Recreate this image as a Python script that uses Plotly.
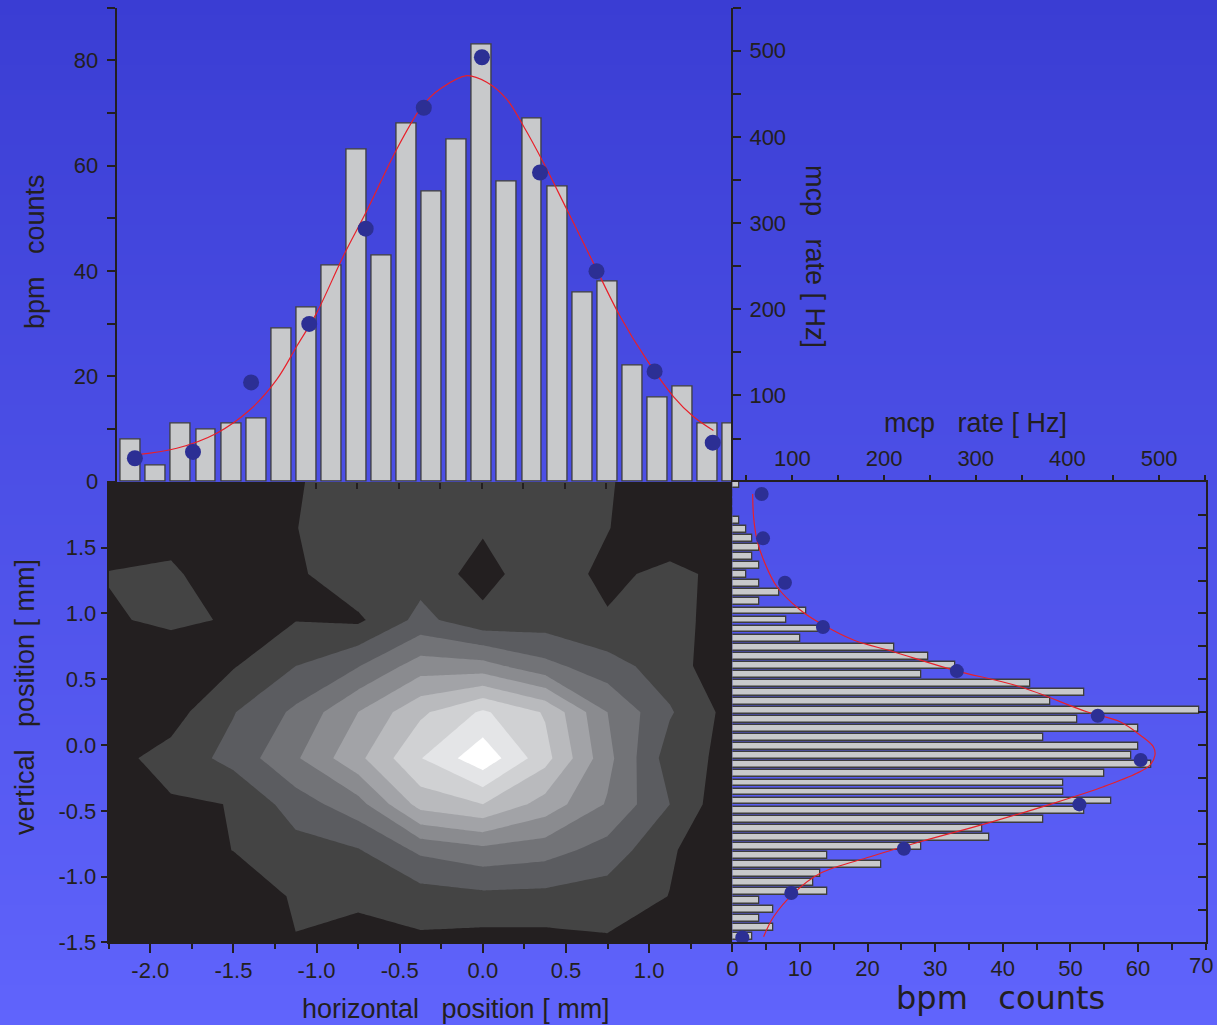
import numpy as np
import plotly.graph_objects as go

W, H = 1217, 1025
DARK = "#231f20"
BAR_FILL = "#c8c9cb"
BAR_EDGE = "#3d3d3d"
DOT = "#2c2f94"
FIT = "#e8202a"
FONT = "Liberation Sans, Arial, sans-serif"

# ---------------- horizontal profile (top panel) ----------------
h_bins = np.round(np.arange(-14, 11) * 0.151, 3)
h_counts = [8, 3, 11, 10, 11, 12, 29, 33, 41, 63, 43, 68, 55, 65, 83,
            57, 69, 56, 36, 38, 22, 16, 18, 11, 11]
h_mcp_pos = [-2.09, -1.74, -1.39, -1.04, -0.70, -0.35, 0.0, 0.35, 0.69, 1.04, 1.39]
h_mcp_rate = [27.2, 34.5, 115.1, 183.0, 293.5, 433.7, 492.3, 358.6, 244.2, 127.9, 45.3]
h_fit_pos = [-2.089, -1.838, -1.597, -1.397, -1.236, -1.115, -0.995, -0.835, -0.694,
             -0.513, -0.373, -0.313, -0.252, -0.092, 0.029, 0.149, 0.249, 0.370,
             0.511, 0.671, 0.832, 0.992, 1.153, 1.273, 1.394]
h_fit_rate = [31.0, 38.8, 56.3, 83.4, 118.3, 157.1, 195.8, 261.6, 314.0,
              385.7, 432.2, 445.8, 455.5, 470.9, 463.3, 443.8, 412.8, 370.2,
              315.9, 253.9, 191.9, 141.5, 98.8, 75.6, 59.3]

# ---------------- vertical profile (right panel) ----------------
v_bins = np.round(-1.457 + 0.0688 * np.arange(51), 4)
v_counts_top_down = [1, 0, 0, 0, 1, 2, 3, 4, 3, 4, 2, 4, 7, 4, 11, 8, 13, 10,
                     24, 29, 33, 28, 44, 52, 47, 69, 51, 60, 46, 60, 59, 62, 55,
                     49, 49, 56, 52, 46, 37, 38, 28, 14, 22, 13, 12, 14, 4, 6, 4, 6, 3]
v_counts = v_counts_top_down[::-1]
v_mcp_pos = [1.908, 1.571, 1.234, 0.897, 0.562, 0.223, -0.114, -0.451, -0.788, -1.125, -1.462]
v_mcp_rate = [66.6, 68.1, 92.0, 133.4, 279.4, 433.0, 479.8, 413.0, 221.7, 98.9, 45.5]
v_fit_pos = [1.908, 1.735, 1.558, 1.406, 1.203, 1.026, 0.925, 0.798, 0.709, 0.570,
             0.443, 0.253, 0.177, 0.076, -0.013, -0.076, -0.152, -0.215, -0.317,
             -0.443, -0.595, -0.735, -0.849, -0.975, -1.127, -1.305, -1.457]
v_fit_rate = [56.8, 57.8, 61.5, 68.7, 83.3, 108.7, 130.5, 166.8, 210.3, 275.7,
              348.4, 421.0, 457.3, 479.1, 493.6, 495.4, 489.9, 475.5, 439.1,
              384.6, 312.1, 239.4, 185.0, 130.5, 101.4, 79.6, 68.7]

# ---------------- 2D beam map (contour) ----------------
grid_x = [-2.25, -1.875, -1.5, -1.125, -0.75, -0.375, 0.0, 0.375, 0.75, 1.125, 1.5]
grid_y = [-1.5, -1.15, -0.8, -0.45, -0.1, 0.25, 0.6, 0.95, 1.3, 1.65, 2.0]
beam_density = [
    [0.2, 0.2, 0.3, 0.955, 0.5, 0.8, 0.63, 0.655, 0.875, 0.4, 0.2],
    [0.2, 0.3, 0.15, 1.15, 1.27, 1.54, 1.75, 1.7, 1.5, 0.98, 0.3],
    [0.3, 0.4, 1.02, 1.6, 1.93, 3.2, 3.7, 3.4, 2.6, 1.1, 0.3],
    [0.3, 0.9, 1.02, 2.5, 3.6, 6.4, 7.0, 5.6, 3.9, 2.0, 0.1],
    [0.69, 1.34, 2.35, 3.87, 5.75, 7.96, 9.7, 7.35, 4.3, 1.5, 0.69],
    [0.3, 0.6, 1.95, 3.2, 5.0, 6.8, 8.16, 6.9, 4.0, 2.1, 0.6],
    [0.3, 0.255, 0.93, 2.0, 2.95, 4.5, 4.4, 3.3, 2.4, 1.5, 0.15],
    [0.876, 1.21, 0.9, 0.97, 0.82, 2.3, 1.3, 1.5, 1.134, 1.5, 0.3],
    [1.05, 1.17, 0.32, 0.8, 1.8, 1.61, 0.6, 1.73, 0.67, 1.38, 0.54],
    [0.3, 0.6, 0.5, 0.98, 1.5, 1.5, 1.12, 1.4, 1.05, 0.0, 0.2],
    [0.3, 0.4, 0.5, 0.93, 1.4, 1.5, 1.5, 1.5, 1.1, 0.3, 0.2],
]
band_colors = ["#231f20", "#444444", "#5b5c60", "#727377", "#8a8b8f",
               "#a2a3a7", "#b9babd", "#d0d1d3", "#e4e5e7", "#ffffff"]
band_scale = [[k / 9, c] for k, c in enumerate(band_colors)]


def px_x(p):
    return p / W


def px_y(p):
    return 1 - p / H


fig = go.Figure()

fig.add_trace(go.Contour(
    x=grid_x, y=grid_y, z=beam_density, xaxis="x", yaxis="y",
    autocontour=False,
    contours=dict(start=1, end=9, size=1, coloring="fill", showlines=False),
    line=dict(width=0, smoothing=0),
    colorscale=band_scale, showscale=False, hoverinfo="skip",
))

# top panel
fig.add_trace(go.Bar(
    x=h_bins, y=h_counts, width=0.12, xaxis="x2", yaxis="y2",
    marker=dict(color=BAR_FILL, line=dict(color=BAR_EDGE, width=1.3)),
    showlegend=False,
))
fig.add_trace(go.Scatter(
    x=h_fit_pos, y=h_fit_rate, xaxis="x2", yaxis="y3", mode="lines",
    line=dict(color=FIT, width=1.2, shape="spline"), showlegend=False,
))
fig.add_trace(go.Scatter(
    x=h_mcp_pos, y=h_mcp_rate, xaxis="x2", yaxis="y3", mode="markers",
    marker=dict(color=DOT, size=16), showlegend=False,
))

# right panel
fig.add_trace(go.Bar(
    x=v_counts, y=v_bins, width=0.052, orientation="h", xaxis="x4", yaxis="y4",
    marker=dict(color=BAR_FILL, line=dict(color=BAR_EDGE, width=1.3)),
    showlegend=False,
))
fig.add_trace(go.Scatter(
    x=v_fit_rate, y=v_fit_pos, xaxis="x5", yaxis="y4", mode="lines",
    line=dict(color=FIT, width=1.2, shape="spline"), showlegend=False,
))
fig.add_trace(go.Scatter(
    x=v_mcp_rate, y=v_mcp_pos, xaxis="x5", yaxis="y4", mode="markers",
    marker=dict(color=DOT, size=14), showlegend=False,
))

tickfont = dict(family=FONT, size=22, color=DARK)
common = dict(showgrid=False, zeroline=False, linecolor=DARK, linewidth=2,
              tickcolor=DARK, tickwidth=1.5, tickfont=tickfont, automargin=False)

x_dom_main = [px_x(108.7), px_x(732.3)]
y_dom_low = [px_y(942.4), px_y(481.9)]
x_dom_top = [px_x(116.6), px_x(731.0)]
y_dom_top = [px_y(481.7), px_y(7.5)]
x_dom_right = [px_x(732.3), px_x(1205.7)]

main_ticks = [-2.0, -1.5, -1.0, -0.5, 0.0, 0.5, 1.0]
quarter_ticks = list(np.round(np.arange(-2.25, 1.51, 0.25), 2))

fig.update_layout(
    template="none",
    width=W, height=H,
    margin=dict(l=0, r=0, t=0, b=0, pad=0),
    paper_bgcolor="#5f63fb",
    plot_bgcolor="rgba(0,0,0,0)",
    font=dict(family=FONT, color=DARK),
    showlegend=False,
    bargap=0,
    xaxis=dict(domain=x_dom_main, range=[-2.25, 1.5], anchor="y",
               showline=True, ticks="outside", ticklen=9,
               tickvals=main_ticks, ticktext=[f"{v:.1f}" for v in main_ticks],
               ticklabelstandoff=-2,
               minor=dict(tickvals=quarter_ticks, ticks="outside", ticklen=5,
                          tickcolor=DARK, tickwidth=1.5),
               **common),
    yaxis=dict(domain=y_dom_low, range=[-1.5, 2.0], anchor="x",
               showline=True, ticks="outside", ticklen=6,
               tickvals=[-1.5, -1.0, -0.5, 0.0, 0.5, 1.0, 1.5],
               ticktext=["-1.5", "-1.0", "-0.5", "0.0", "0.5", "1.0", "1.5"],
               **common),
    xaxis2=dict(domain=x_dom_top, range=[-2.2, 1.5], anchor="y2",
                showline=False, ticks="outside", ticklen=6,
                tickvals=quarter_ticks, showticklabels=False, **common),
    xaxis3=dict(range=[-2.2, 1.5], overlaying="x2", side="top", anchor="y2",
                showline=True, ticks="inside", ticklen=11,
                tickvals=[-2.0, -1.5, -1.0, -0.5, 0.0, 0.5, 1.0, 1.5],
                showticklabels=False,
                minor=dict(tickvals=quarter_ticks, ticks="inside", ticklen=7,
                           tickcolor=DARK, tickwidth=1.5),
                **common),
    yaxis2=dict(domain=y_dom_top, range=[0, 90], anchor="x2", side="left",
                showline=True, ticks="outside", ticklen=8,
                tickvals=[0, 20, 40, 60, 80],
                minor=dict(tickvals=[10, 30, 50, 70, 90], ticks="outside",
                           ticklen=8, tickcolor=DARK, tickwidth=1.5),
                ticklabelstandoff=4,
                **common),
    yaxis3=dict(range=[0, 550], overlaying="y2", side="right", anchor="x2",
                showline=True, ticks="outside", ticklen=8,
                tickvals=[100, 200, 300, 400, 500],
                minor=dict(tickvals=[50, 150, 250, 350, 450, 550], ticks="outside",
                           ticklen=8, tickcolor=DARK, tickwidth=1.5),
                ticklabelstandoff=4,
                **common),
    xaxis4=dict(domain=x_dom_right, range=[0, 70], anchor="y4",
                showline=True, ticks="outside", ticklen=8,
                tickvals=[0, 10, 20, 30, 40, 50, 60],
                minor=dict(tickvals=[5, 15, 25, 35, 45, 55, 65, 70], ticks="outside",
                           ticklen=6, tickcolor=DARK, tickwidth=1.5),
                ticklabelstandoff=-3,
                **common),
    yaxis4=dict(domain=y_dom_low, range=[-1.5, 2.0], anchor="x4", side="right",
                showline=True, ticks="inside", ticklen=8,
                tickvals=list(np.round(np.arange(-1.5, 2.01, 0.25), 2)),
                showticklabels=False, **common),
    xaxis5=dict(range=[34.6, 550.7], overlaying="x4", side="top", anchor="y4",
                showline=True, ticks="outside", ticklen=5,
                tickvals=[100, 200, 300, 400, 500],
                minor=dict(tickvals=[50, 150, 250, 350, 450, 550], ticks="outside",
                           ticklen=5, tickcolor=DARK, tickwidth=1.5),
                ticklabelstandoff=0,
                **common),
)

# vertical colour gradient behind everything
top_rgb = np.array([58, 61, 211])
bot_rgb = np.array([96, 100, 252])
n_strips = 205
for k in range(n_strips):
    t = (k + 0.5) / n_strips
    r, g, b = (top_rgb + (bot_rgb - top_rgb) * t).round().astype(int)
    fig.add_shape(type="rect", xref="paper", yref="paper",
                  x0=0, x1=1, y0=1 - (k + 1) / n_strips - 0.001, y1=1 - k / n_strips,
                  fillcolor=f"rgb({r},{g},{b})", line=dict(width=0), layer="below")

NB = "\u00a0"
title_font = dict(family=FONT, size=27, color=DARK)
annots = [
    dict(text=f"bpm{NB}{NB}{NB}counts", x=px_x(35), y=px_y(252), textangle=-90),
    dict(text=f"mcp{NB}{NB}{NB}rate{NB}[{NB}Hz]", x=px_x(815), y=px_y(256), textangle=90),
    dict(text=f"vertical{NB}{NB}{NB}position{NB}[{NB}mm]", x=px_x(25), y=px_y(697), textangle=-90),
    dict(text=f"horizontal{NB}{NB}{NB}position{NB}[{NB}mm]", x=px_x(456), y=px_y(1009), textangle=0),
    dict(text=f"mcp{NB}{NB}{NB}rate{NB}[{NB}Hz]", x=px_x(975), y=px_y(423), textangle=0),
]
for a in annots:
    fig.add_annotation(xref="paper", yref="paper", xanchor="center", yanchor="middle",
                       showarrow=False, font=title_font, **a)
# end label of the bpm-counts axis sits against the right border
fig.add_annotation(text="70", xref="paper", yref="paper", x=px_x(1201), y=px_y(965),
                   xanchor="center", yanchor="middle", showarrow=False,
                   font=dict(family=FONT, size=22, color=DARK))
fig.add_annotation(text=f"bpm{NB}{NB}{NB}counts", xref="paper", yref="paper",
                   x=px_x(1000), y=px_y(998), xanchor="center", yanchor="middle",
                   showarrow=False, font=dict(family="DejaVu Sans", size=32, color=DARK))

fig.write_html("out.html")
